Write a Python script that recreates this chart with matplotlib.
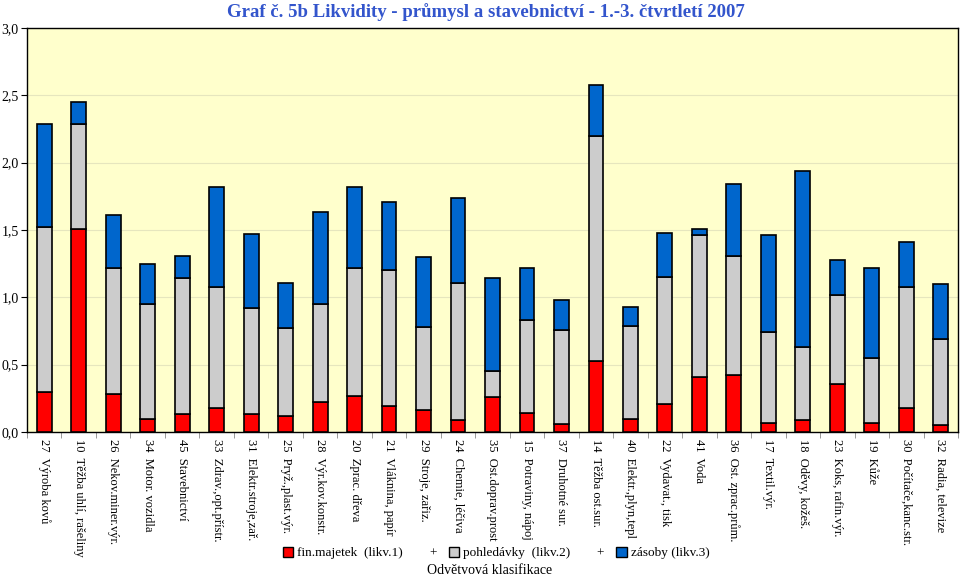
import matplotlib.pyplot as plt
import matplotlib as mpl
from matplotlib.patches import Patch
import numpy as np

mpl.rcParams['font.family'] = ['Liberation Serif', 'DejaVu Serif']

categories = ['27  Výroba kovů', '10  Těžba uhlí, rašeliny', '26  Nekov.miner.výr.',
              '34  Motor. vozidla', '45  Stavebnictví', '33  Zdrav.,opt.přístr.',
              '31  Elektr.stroje,zař.', '25  Pryž.,plast.výr.', '28  Výr.kov.konstr.',
              '20  Zprac. dřeva', '21  Vláknina, papír', '29  Stroje, zařiz.',
              '24  Chemie, léčiva', '35  Ost.doprav.prost', '15  Potraviny, nápoj',
              '37  Druhotné sur.', '14  Těžba ost.sur.', '40  Elektr.,plyn,tepl',
              '22  Vydavat., tisk', '41  Voda', '36  Ost. zprac.prům.',
              '17  Textil.výr.', '18  Oděvy, kožeš.', '23  Koks, rafin.výr.',
              '19  Kůže', '30  Počítače,kanc.str.', '32  Radia, televize']

# likv.1, likv.2, likv.3 (cumulative levels)
likv1 = [0.30, 1.51, 0.28, 0.10, 0.13, 0.18, 0.13, 0.12, 0.22, 0.27, 0.19, 0.16, 0.09, 0.26,
         0.14, 0.06, 0.53, 0.10, 0.21, 0.41, 0.42, 0.07, 0.09, 0.36, 0.07, 0.18, 0.05]
likv2 = [1.52, 2.29, 1.22, 0.95, 1.14, 1.08, 0.92, 0.77, 0.95, 1.22, 1.20, 0.78, 1.11, 0.45,
         0.83, 0.76, 2.20, 0.79, 1.15, 1.46, 1.31, 0.74, 0.63, 1.02, 0.55, 1.08, 0.69]
likv3 = [2.29, 2.45, 1.61, 1.25, 1.31, 1.82, 1.47, 1.11, 1.63, 1.82, 1.71, 1.30, 1.74, 1.14,
         1.22, 0.98, 2.58, 0.93, 1.48, 1.51, 1.84, 1.46, 1.94, 1.28, 1.22, 1.41, 1.10]

red = '#FF0000'
grey = '#CCCCCC'
blue = '#0066CC'

fig = plt.figure(figsize=(9.6, 5.76), dpi=100)
ax = fig.add_axes([27/960, 144/576, 931/960, 404/576])
ax.set_facecolor('#FFFFCC')

x = np.arange(len(categories))
fin = np.array(likv1)
pohl = np.array(likv2) - fin
zas = np.array(likv3) - np.array(likv2)
w = 0.43
ax.bar(x, fin, w, color=red, edgecolor='black', linewidth=1.2, zorder=3)
ax.bar(x, pohl, w, bottom=fin, color=grey, edgecolor='black', linewidth=1.2, zorder=3)
ax.bar(x, zas, w, bottom=fin + pohl, color=blue, edgecolor='black', linewidth=1.2, zorder=3)

ax.set_xlim(-0.5, len(categories) - 0.5)
ax.set_ylim(0, 3.0)
ax.set_yticks(np.arange(0, 3.01, 0.5))
ax.set_yticklabels([('%.1f' % v).replace('.', ',') for v in np.arange(0, 3.01, 0.5)], fontsize=10)
ax.yaxis.grid(True, color='#E6E6BE', linewidth=0.8, zorder=0)
ax.set_xticks(x)
ax.set_xticklabels(categories, rotation=-90, fontsize=9, va='top', ha='center')
ax.tick_params(axis='x', length=0, pad=5)
ax.set_xticks(np.arange(-0.5, len(categories), 1), minor=True)
ax.tick_params(axis='x', which='minor', length=4, color='#888888')
ax.tick_params(axis='y', length=4, pad=2)
for s in ax.spines.values():
    s.set_color('black')
    s.set_linewidth(1.0)

fig.text(486/960, 1 - 12/576, 'Graf č. 5b Likvidity - průmysl a stavebnictví - 1.-3. čtvrtletí 2007',
         ha='center', va='center', fontsize=13.5, fontweight='bold', color='#3355CC')

handles = [Patch(facecolor=red, edgecolor='black'), Patch(visible=False),
           Patch(facecolor=grey, edgecolor='black'), Patch(visible=False),
           Patch(facecolor=blue, edgecolor='black')]
labels = ['fin.majetek  (likv.1)', '+', 'pohledávky  (likv.2)', '+', 'zásoby (likv.3)']
fig.legend(handles, labels, loc='center', bbox_to_anchor=(496/960, 1 - 553/576), ncol=5,
           frameon=False, fontsize=9.5, handlelength=0.8, handleheight=0.8,
           handletextpad=0.3, columnspacing=0.9)
fig.text(490/960, 1 - 570/576, 'Odvětvová klasifikace', ha='center', va='center', fontsize=10)

fig.savefig('out.png', dpi=100)
